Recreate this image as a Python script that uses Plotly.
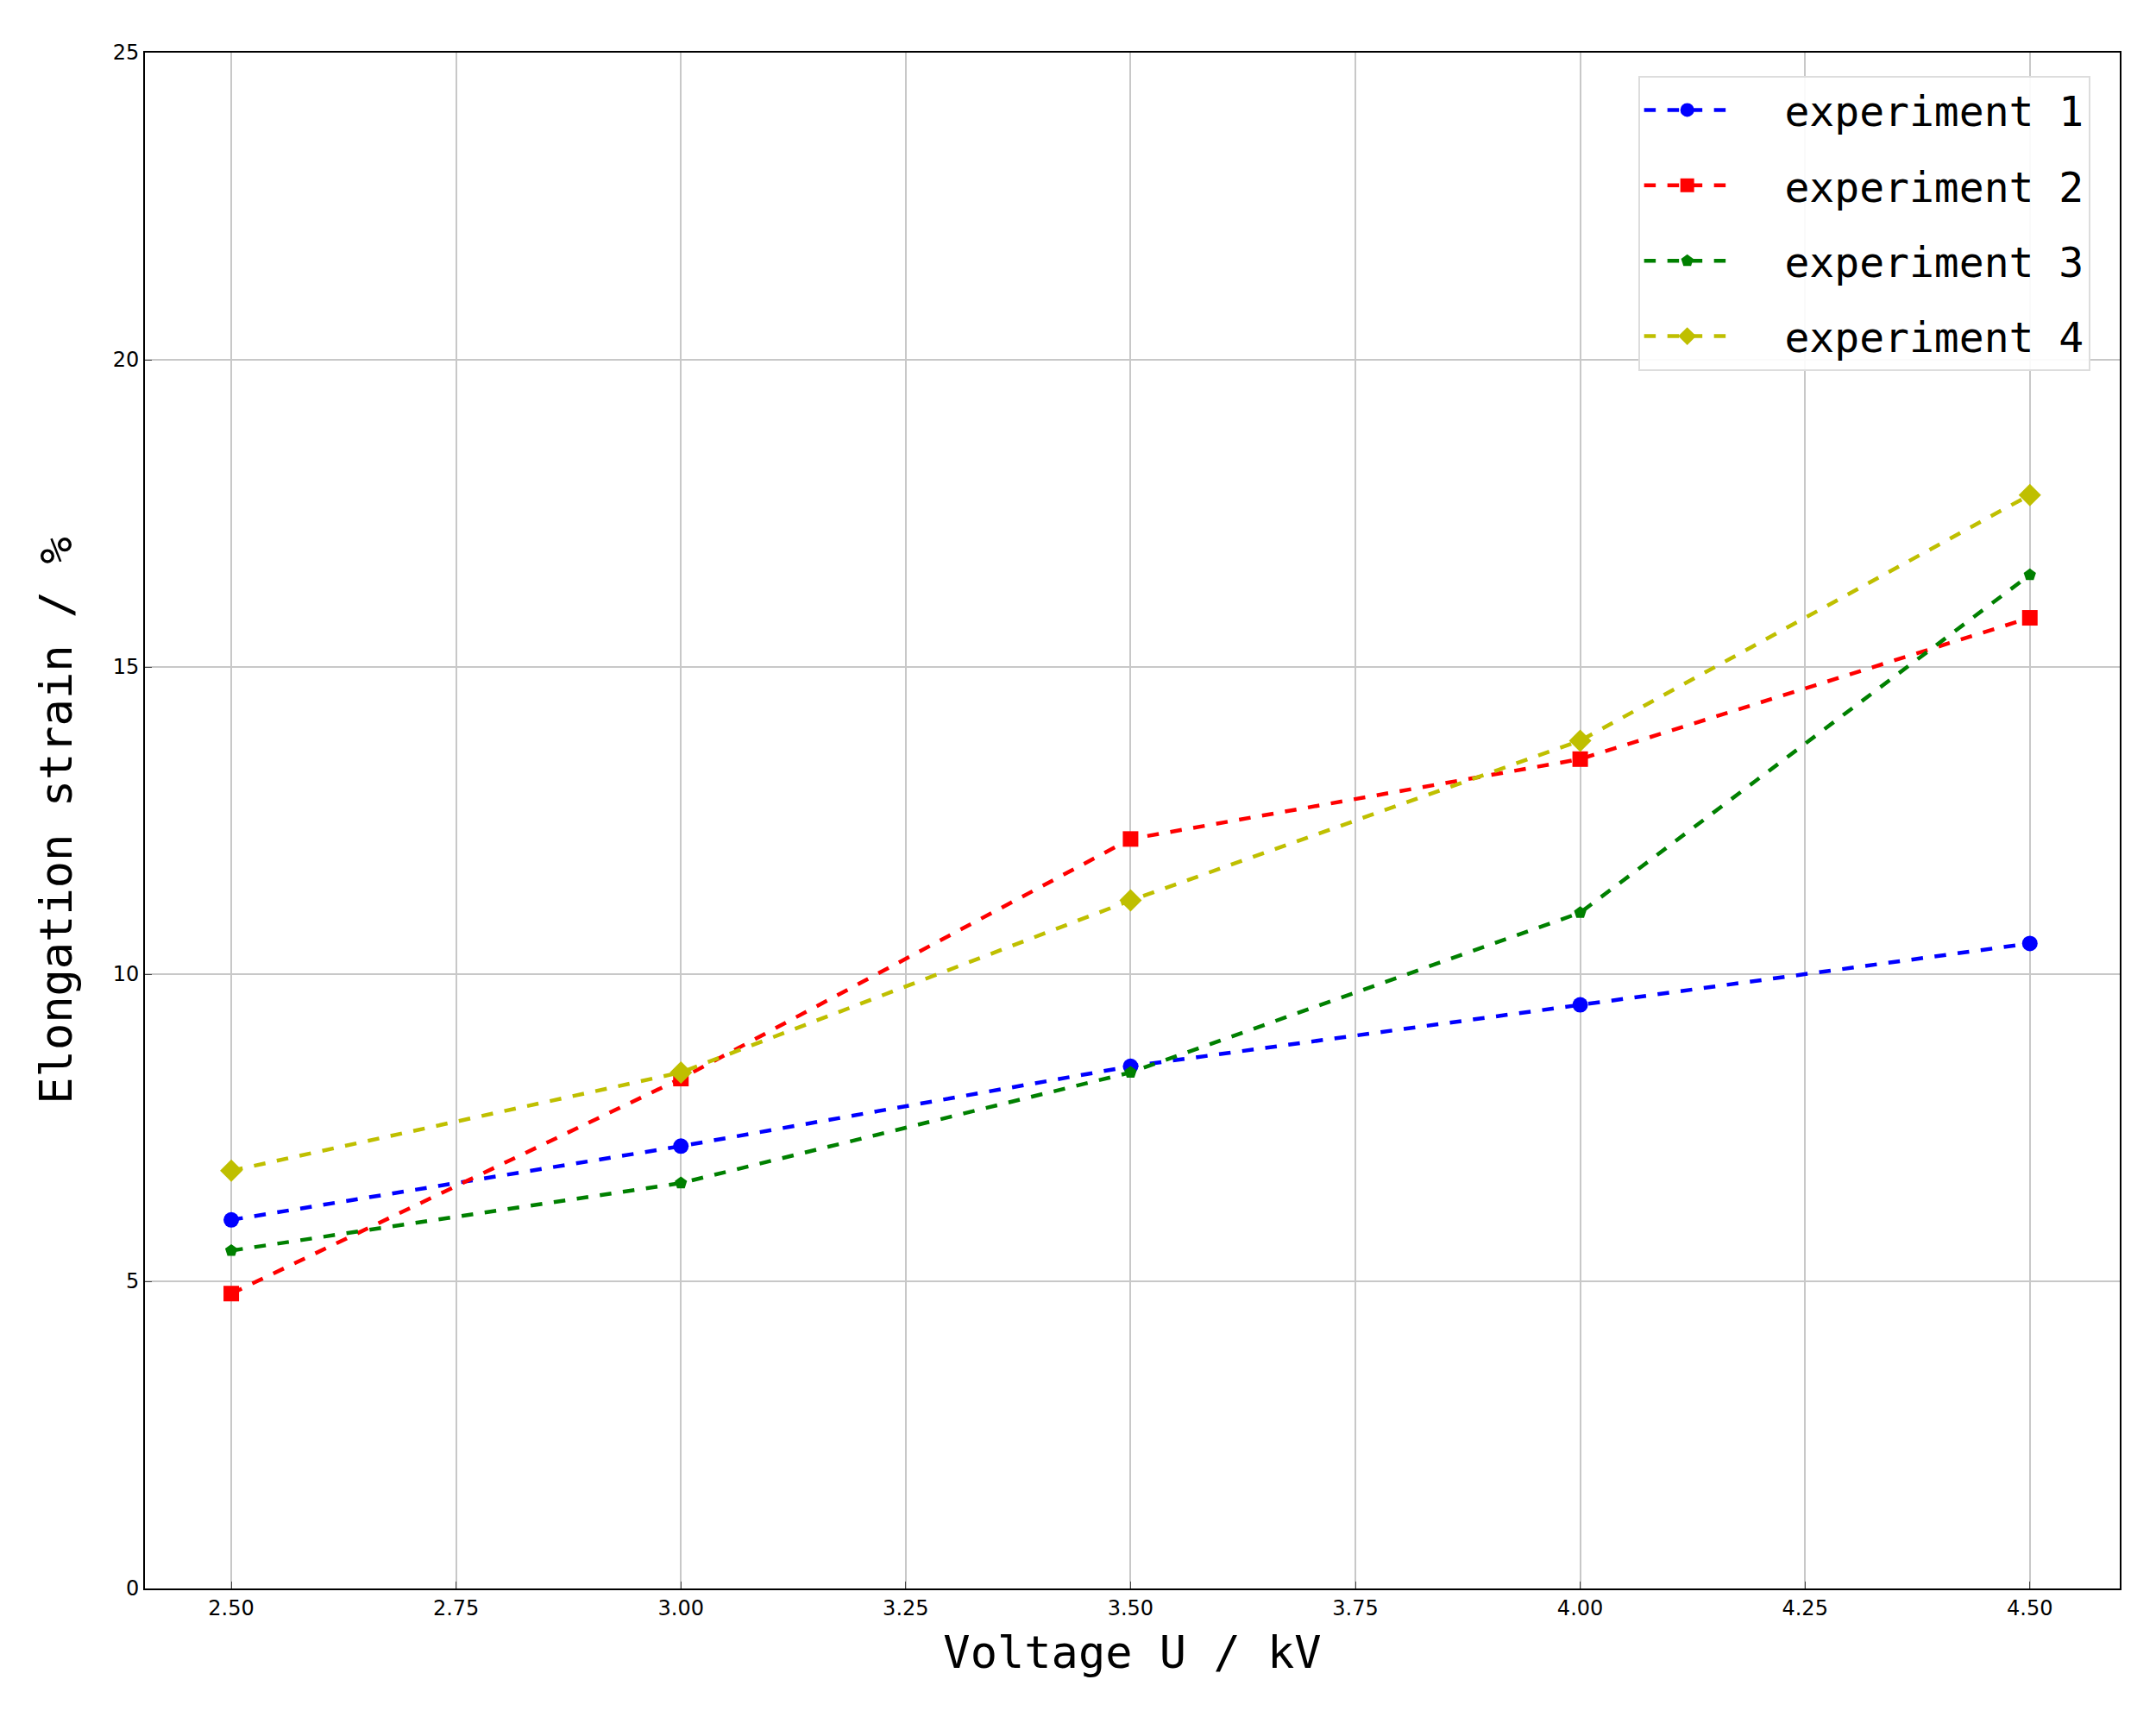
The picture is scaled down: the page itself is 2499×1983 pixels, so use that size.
import plotly.graph_objects as go

voltage = [2.5, 3.0, 3.5, 4.0, 4.5]
exp1 = [6.0, 7.2, 8.5, 9.5, 10.5]
exp2 = [4.8, 8.3, 12.2, 13.5, 15.8]
exp3 = [5.5, 6.6, 8.4, 11.0, 16.5]
exp4 = [6.8, 8.4, 11.2, 13.8, 17.8]
names = ["experiment 1", "experiment 2", "experiment 3", "experiment 4"]
x_ticks = [2.5, 2.75, 3.0, 3.25, 3.5, 3.75, 4.0, 4.25, 4.5]
x_tick_labels = ["2.50", "2.75", "3.00", "3.25", "3.50", "3.75", "4.00", "4.25", "4.50"]

styles = [("#0000ff", "circle", 18), ("#ff0000", "square", 18),
          ("#008000", "pentagon", 15), ("#bfbf00", "diamond", 20)]

fig = go.Figure()
for i, (ys, nm, (c, sym, sz)) in enumerate(zip([exp1, exp2, exp3, exp4], names, styles)):
    fig.add_trace(go.Scatter(x=voltage, y=ys, name="  " + nm, mode="lines+markers",
                             legendgroup=f"g{i}",
                             line=dict(color=c, width=4.5, dash="dash"),
                             marker=dict(color=c, symbol=sym, size=sz)))

fig.update_layout(
    width=2499, height=1983, paper_bgcolor="white", plot_bgcolor="white",
    margin=dict(l=160, r=50, t=53, b=150),
    font=dict(family="DejaVu Sans Mono", color="black"),
    legend=dict(x=0.985, y=0.985, xanchor="right", yanchor="top",
                bgcolor="rgba(255,255,255,0.9)", bordercolor="#dddddd", borderwidth=2,
                font=dict(size=48, family="DejaVu Sans Mono"), itemwidth=100,
                tracegroupgap=22),
    xaxis=dict(range=[2.404, 4.6], tickvals=x_ticks, ticktext=x_tick_labels,
               showgrid=True, gridcolor="#c8c8c8", gridwidth=2,
               showline=True, linecolor="black", linewidth=2, mirror=True,
               ticks="inside", ticklen=8, tickfont=dict(size=24, family="DejaVu Sans"),
               title=dict(text="Voltage U / kV", font=dict(size=52), standoff=20),
               zeroline=False),
    yaxis=dict(range=[0, 25], tickvals=[0, 5, 10, 15, 20, 25],
               showgrid=True, gridcolor="#c8c8c8", gridwidth=2,
               showline=True, linecolor="black", linewidth=2, mirror=True,
               ticks="inside", ticklen=8, tickfont=dict(size=24, family="DejaVu Sans"),
               title=dict(text="Elongation strain / %", font=dict(size=52), standoff=30),
               zeroline=False),
)
fig.write_html("out.html")
